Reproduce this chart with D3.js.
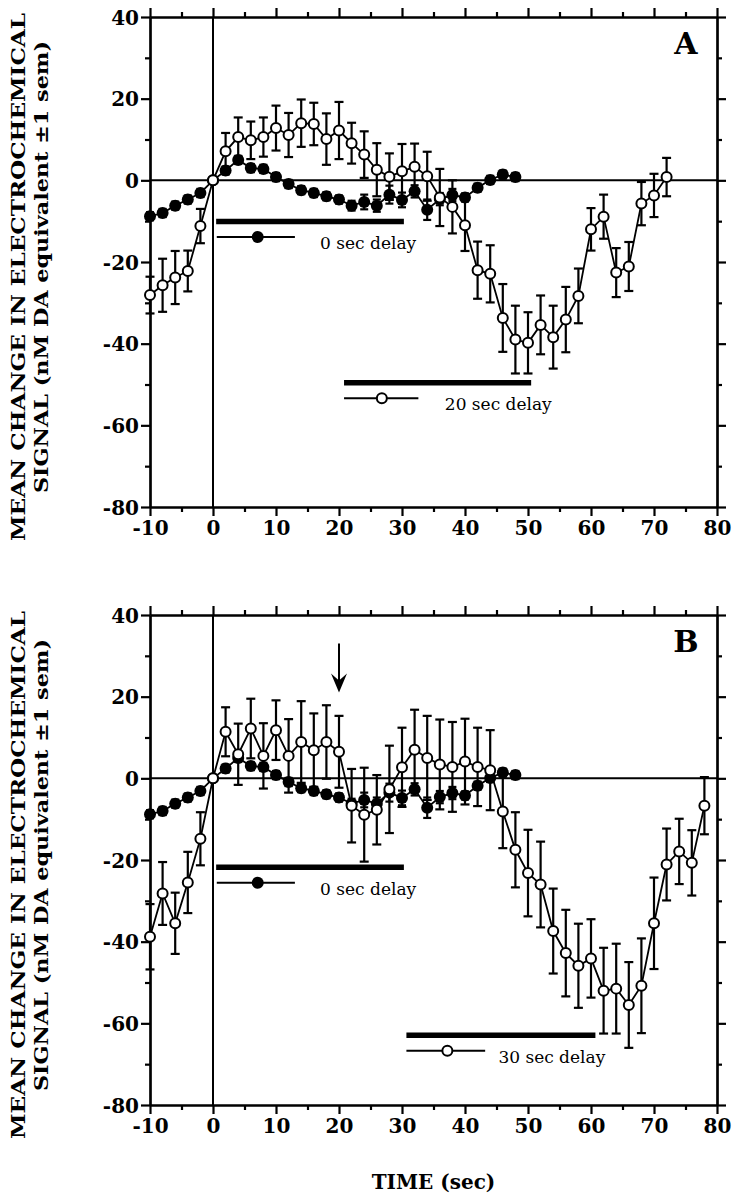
<!DOCTYPE html>
<html><head><meta charset="utf-8">
<script src="https://cdn.jsdelivr.net/npm/d3@7/dist/d3.min.js"></script>
<style>body{margin:0;background:#fff}svg{display:block}</style>
</head><body>
<svg id="chart" width="735" height="1199"></svg>
<script>
// ---------- data ----------
const timesFilled = [-10,-8,-6,-4,-2,0,2,4,6,8,10,12,14,16,18,20,22,24,26,28,30,32,34,36,38,40,42,44,46,48];
const delay0Mean  = [-8.8,-8.0,-6.2,-4.7,-3.1,0,2.4,5.0,3.0,2.8,0.8,-0.9,-2.4,-3.1,-3.9,-4.7,-6.2,-5.3,-6.2,-3.5,-4.8,-2.7,-7.2,-4.6,-3.6,-4.2,-1.8,0.1,1.4,0.8];
const delay0Sem   = [1,1,1,1,1,0,1,1,1,1,1,1,1,1,1,1,1.2,1.8,1.5,2.2,1.8,1.5,2.5,1.5,1.5,1,1,1,1,1];

const timesOpenA  = [-10,-8,-6,-4,-2,0,2,4,6,8,10,12,14,16,18,20,22,24,26,28,30,32,34,36,38,40,42,44,46,48,50,52,54,56,58,60,62,64,66,68,70,72];
const delay20Mean = [-28.1,-25.7,-23.8,-22.2,-11.2,0,7.1,10.6,9.8,10.6,12.8,11.1,14.0,13.8,10.1,12.2,9.1,6.3,2.6,0.9,2.2,3.3,1.0,-4.2,-6.5,-11.0,-22.0,-22.9,-33.7,-39.0,-39.8,-35.4,-38.4,-34.1,-28.3,-12.0,-8.9,-22.6,-21.1,-5.7,-3.7,0.8];
const delay20Sem  = [4.5,6.5,6.5,5,4.2,0,4.5,4.8,4.6,4.8,5.5,5.4,5.8,5.2,6.3,7,5,5.7,6.5,5.7,6.7,5.7,6,7,6.5,6.3,7,7,8.3,8.3,7.5,7.2,7.7,8,6.7,5.2,5.4,6,6,5.3,5.3,4.7];

const timesOpenB  = [-10,-8,-6,-4,-2,0,2,4,6,8,10,12,14,16,18,20,22,24,26,28,30,32,34,36,38,40,42,44,46,48,50,52,54,56,58,60,62,64,66,68,70,72,74,76,78];
const delay30Mean = [-38.8,-28.2,-35.5,-25.5,-14.8,0,11.4,5.9,12.2,5.5,11.8,5.5,8.9,6.9,8.9,6.5,-6.7,-8.9,-7.7,-2.7,2.7,7.0,5.0,3.4,2.8,4.1,2.8,2.0,-8.1,-17.5,-23.2,-26.0,-37.4,-42.8,-45.9,-44.1,-52.0,-51.5,-55.5,-50.8,-35.5,-21.1,-17.9,-20.7,-6.7];
const delay30Sem  = [8,7.7,7.5,7.5,6.5,0,6,7.5,7.3,8,7.3,9,10,9,9,8.8,9,11.5,8.5,10.7,9.7,9.8,10.3,11,11,10.5,9.6,9.8,9,9.2,10.6,10.5,10.4,10.6,10.3,9.6,10.5,11,10.5,11.6,11.2,8.8,8,8,7];

const xTickLabels = [-10,0,10,20,30,40,50,60,70,80];
const yTickLabels = [-80,-60,-40,-20,0,20,40];
const stimulusA = [[0.5,30.3],[20.8,50.5]];
const stimulusB = [[0.5,30.3],[30.7,60.7]];
const legendLabelsA = ["0 sec delay","20 sec delay"];
const legendLabelsB = ["0 sec delay","30 sec delay"];

// ---------- layout ----------
const svg = d3.select("#chart");
const X0 = 150, X1 = 717, PH = 490;
const serif = "'DejaVu Serif', 'Liberation Serif', serif";
const fmt = d => String(d);

const panels = [
  {top:17, letter:"A", openT:timesOpenA, openM:delay20Mean, openS:delay20Sem, stim:stimulusA, labels:legendLabelsA,
   barY:[-10.1,-49.6], legendT:[[0.6,13,7.1,17],[20.8,32.6,26.8,36.8]], arrow:null},
  {top:615, letter:"B", openT:timesOpenB, openM:delay30Mean, openS:delay30Sem, stim:stimulusB, labels:legendLabelsB,
   barY:[-21.8,-62.9], legendT:[[0.6,13,7.1,17],[30.7,43.2,37.2,45.3]], arrow:[20,33,21]}
];

panels.forEach(p => {
  const x = d3.scaleLinear().domain([-10,80]).range([X0,X1]);
  const y = d3.scaleLinear().domain([-80,40]).range([p.top+PH, p.top]);
  const g = svg.append("g");

  const xMinor = d3.range(-5, 80, 10);
  const yMinor = d3.range(-70, 40, 20);
  const bottom = g.append("g").attr("transform",`translate(0,${p.top+PH})`)
    .call(d3.axisBottom(x).tickValues(xTickLabels).tickSize(9).tickSizeOuter(0).tickFormat(fmt));
  g.append("g").attr("transform",`translate(0,${p.top+PH})`)
    .call(d3.axisBottom(x).tickValues(xMinor).tickSize(5).tickSizeOuter(0).tickFormat(""));
  g.append("g").attr("transform",`translate(0,${p.top})`)
    .call(d3.axisTop(x).tickValues(xTickLabels).tickSize(9).tickSizeOuter(0).tickFormat(""));
  g.append("g").attr("transform",`translate(0,${p.top})`)
    .call(d3.axisTop(x).tickValues(xMinor).tickSize(5).tickSizeOuter(0).tickFormat(""));
  const left = g.append("g").attr("transform",`translate(${X0},0)`)
    .call(d3.axisLeft(y).tickValues(yTickLabels).tickSize(9).tickSizeOuter(0).tickFormat(fmt));
  g.append("g").attr("transform",`translate(${X0},0)`)
    .call(d3.axisLeft(y).tickValues(yMinor).tickSize(5).tickSizeOuter(0).tickFormat(""));
  g.append("g").attr("transform",`translate(${X1},0)`)
    .call(d3.axisRight(y).tickValues(yTickLabels).tickSize(9).tickSizeOuter(0).tickFormat(""));
  g.append("g").attr("transform",`translate(${X1},0)`)
    .call(d3.axisRight(y).tickValues(yMinor).tickSize(5).tickSizeOuter(0).tickFormat(""));
  g.selectAll(".domain").attr("stroke","#000").attr("stroke-width",2.2);
  g.selectAll(".tick line").attr("stroke","#000").attr("stroke-width",2.2);
  bottom.selectAll("text").attr("font-family",serif).attr("font-weight","bold").attr("font-size",20)
    .attr("fill","#000").attr("y",14).attr("dy","0.71em");
  left.selectAll("text").attr("font-family",serif).attr("font-weight","bold").attr("font-size",20)
    .attr("fill","#000").attr("x",-11).attr("dy","0.36em");

  // zero lines
  g.append("line").attr("x1",x(0)).attr("x2",x(0)).attr("y1",y(40)).attr("y2",y(-80))
    .attr("stroke","#000").attr("stroke-width",2);
  g.append("line").attr("x1",X0).attr("x2",X1).attr("y1",y(0)).attr("y2",y(0))
    .attr("stroke","#000").attr("stroke-width",2);

  // stimulus bars and legend
  p.stim.forEach((s,i) => {
    g.append("line").attr("x1",x(s[0])).attr("x2",x(s[1])).attr("y1",y(p.barY[i])).attr("y2",y(p.barY[i]))
      .attr("stroke","#000").attr("stroke-width",5.5);
    const lt = p.legendT[i];
    const ly = y(p.barY[i]) + 15.5;
    g.append("line").attr("x1",x(lt[0])).attr("x2",x(lt[1])).attr("y1",ly).attr("y2",ly)
      .attr("stroke","#000").attr("stroke-width",2);
    g.append("circle").attr("cx",x(lt[2])).attr("cy",ly).attr("r", i===0?6:5)
      .attr("fill", i===0?"#000":"#fff").attr("stroke","#000").attr("stroke-width", i===0?0:2);
    g.append("text").attr("x",x(lt[3])).attr("y",ly+12).text(p.labels[i])
      .attr("font-family",serif).attr("font-size",17).attr("fill","#000");
  });

  function errorBars(T, M, S, cap) {
    const d = T.map((t,i)=>({t, m:M[i], s:S[i]})).filter(d=>d.s>0);
    const eb = g.append("g").attr("stroke","#000").attr("stroke-width",2.2);
    eb.selectAll(".v").data(d).join("line")
      .attr("x1",d=>x(d.t)).attr("x2",d=>x(d.t)).attr("y1",d=>y(d.m+d.s)).attr("y2",d=>y(d.m-d.s));
    eb.selectAll(".ct").data(d).join("line")
      .attr("x1",d=>x(d.t)-cap).attr("x2",d=>x(d.t)+cap).attr("y1",d=>y(d.m+d.s)).attr("y2",d=>y(d.m+d.s));
    eb.selectAll(".cb").data(d).join("line")
      .attr("x1",d=>x(d.t)-cap).attr("x2",d=>x(d.t)+cap).attr("y1",d=>y(d.m-d.s)).attr("y2",d=>y(d.m-d.s));
  }
  const line = d3.line().x(d=>x(d[0])).y(d=>y(d[1]));

  errorBars(timesFilled, delay0Mean, delay0Sem, 4);
  g.append("path").datum(timesFilled.map((t,i)=>[t,delay0Mean[i]])).attr("d",line)
    .attr("fill","none").attr("stroke","#000").attr("stroke-width",1.8);
  g.selectAll(".fdot").data(timesFilled.map((t,i)=>[t,delay0Mean[i]])).join("circle")
    .attr("cx",d=>x(d[0])).attr("cy",d=>y(d[1])).attr("r",6).attr("fill","#000");

  errorBars(p.openT, p.openM, p.openS, 4.5);
  g.append("path").datum(p.openT.map((t,i)=>[t,p.openM[i]])).attr("d",line)
    .attr("fill","none").attr("stroke","#000").attr("stroke-width",1.8);
  g.selectAll(".odot").data(p.openT.map((t,i)=>[t,p.openM[i]])).join("circle")
    .attr("cx",d=>x(d[0])).attr("cy",d=>y(d[1])).attr("r",5)
    .attr("fill","#fff").attr("stroke","#000").attr("stroke-width",2);

  if (p.arrow) {
    const ax = x(p.arrow[0]), yt = y(p.arrow[1]), yb = y(p.arrow[2]);
    g.append("line").attr("x1",ax).attr("x2",ax).attr("y1",yt).attr("y2",yb-8)
      .attr("stroke","#000").attr("stroke-width",2);
    g.append("path").attr("d",`M${ax-8},${yb-19} L${ax},${yb-12} L${ax+8},${yb-19} L${ax},${yb} Z`).attr("fill","#000");
  }

  g.append("text").attr("x",686).attr("y",p.top+37).attr("text-anchor","middle").text(p.letter)
    .attr("font-family",serif).attr("font-weight","bold").attr("font-size",30).attr("fill","#000");

  g.append("text").attr("transform",`translate(25,${p.top+260}) rotate(-90)`).attr("text-anchor","middle")
    .text("MEAN CHANGE IN ELECTROCHEMICAL").attr("font-family",serif).attr("font-weight","bold")
    .attr("font-size",19).attr("fill","#000").attr("textLength",528).attr("lengthAdjust","spacingAndGlyphs");
  g.append("text").attr("transform",`translate(48,${p.top+250}) rotate(-90)`).attr("text-anchor","middle")
    .text("SIGNAL (nM DA equivalent ±1 sem)").attr("font-family",serif).attr("font-weight","bold")
    .attr("font-size",19).attr("fill","#000").attr("textLength",452).attr("lengthAdjust","spacingAndGlyphs");
});

svg.append("text").attr("x",(X0+X1)/2).attr("y",1189).attr("text-anchor","middle").text("TIME (sec)")
  .attr("font-family",serif).attr("font-weight","bold").attr("font-size",20).attr("fill","#000");
</script>
</body></html>
